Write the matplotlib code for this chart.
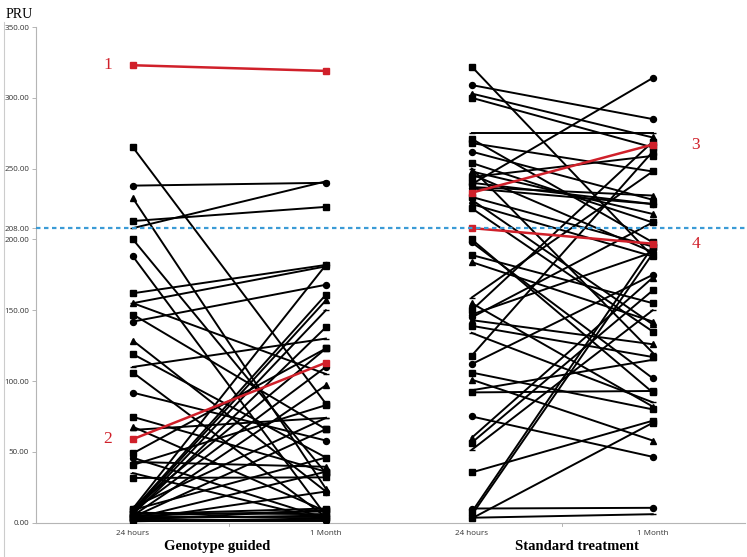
import matplotlib.pyplot as plt
from matplotlib.lines import Line2D

# Genotype guided: PRU at 24 hours and at 1 month (one pair per patient)
guided_24h = [265, 238, 229, 213, 208, 200, 188, 162, 155, 155, 147, 142,
              128.5, 119, 110, 106, 91.8, 74.7, 67.7, 65.5, 49, 45.8, 42.9,
              40.8, 35, 31.6, 10, 9, 8, 7, 6, 8, 5, 4, 9, 3, 2, 6, 3, 1, 5,
              2, 7, 4, 11, 10, 1, 2]
guided_1m = [84, 240, 24, 223, 241, 35, 5, 182, 181, 105, 66, 168,
             22, 46, 130, 4, 58, 36, 8, 74, 123, 3, 39.5,
             83, 2, 32, 182, 161, 157, 150, 138, 110, 97, 66, 46, 36, 22, 10, 5, 3, 8,
             2, 6, 4, 74, 123, 1, 9]

# Standard treatment
standard_24h = [322, 309, 303, 300, 275, 271, 262, 254, 248, 246, 240, 239,
                237, 230, 225, 222, 198, 189, 184, 159, 150, 147, 143, 139,
                134, 118, 112, 106, 101, 93.5, 92, 75, 60, 56.5, 51.5, 35.5,
                10, 7.5, 5.5, 3.5, 3, 145, 155, 200, 250, 268, 236, 244, 228]
standard_1m = [188, 285, 272, 265, 275, 198, 228, 212, 218, 191, 225, 314,
               231, 195, 188, 135, 102, 155, 142, 248, 269, 191, 126, 117,
               85, 262, 175, 80, 58, 115, 93, 46.5, 173, 164, 150, 72,
               10.5, 195, 190, 6, 70.5, 212, 82, 92, 120, 248, 225, 259, 140]

# Highlighted patients (red)
highlight_labels = ["1", "2", "3", "4"]
highlight_24h = [323, 59, 233, 208]
highlight_1m = [319, 113, 267, 197]
highlight_group = [0, 0, 1, 1]

y_ticks = [0, 50, 100, 150, 200, 250, 300, 350]
cutoff = 208
time_labels = ["24 hours", "1 Month"]
group_labels = ["Genotype guided", "Standard treatment"]

# x positions of the two time points for each group
group_x = [(0.0, 1.0), (1.756, 2.694)]
marker_cycle = ["s", "o", "^", "s", "_", "s", "o", "s", "^", "_"]

serif = "Liberation Serif"
sans = "Open Sans"

fig = plt.figure(figsize=(7.47, 5.57), dpi=100)
ax = fig.add_axes([0.0482, 0.0616, 0.9488, 0.8899])


def dibujar_grupo(ax, xs, before, after):
    for i, (a, b) in enumerate(zip(before, after)):
        ax.plot(xs, [a, b], color="black", lw=1.4,
                marker=marker_cycle[i % len(marker_cycle)],
                markersize=4.3, markeredgewidth=1.0, zorder=3)


dibujar_grupo(ax, group_x[0], guided_24h, guided_1m)
dibujar_grupo(ax, group_x[1], standard_24h, standard_1m)

red = "#d0202a"
for lab, a, b, g in zip(highlight_labels, highlight_24h, highlight_1m, highlight_group):
    xs = group_x[g]
    ax.plot(xs, [a, b], color=red, lw=1.8, marker="s", markersize=4.3, zorder=4)
    if g == 0:
        ax.text(xs[0] - 0.11, a, lab, color=red, fontsize=12.5, family=serif,
                ha="right", va="center")
    else:
        ax.text(xs[1] + 0.2, b, lab, color=red, fontsize=12.5, family=serif,
                ha="left", va="center")

# cut-off line
ax.axhline(cutoff, color="#3b9bd6", lw=1.6, ls=(0, (2, 1.6)), zorder=5)

ax.set_xlim(-0.5026, 3.171)
ax.set_ylim(0, 350)

yt = y_ticks[:4] + [cutoff] + y_ticks[4:]
ax.set_yticks(yt)
ax.set_yticklabels([f"{v:.2f}" for v in yt], fontsize=5.8, family=sans, color="#333333")
ax.tick_params(axis="y", length=3, width=0.6, color="#aaaaaa", pad=2)

tick_pos = [x for pair in group_x for x in pair]
ax.set_xticks(tick_pos)
ax.set_xticklabels(time_labels * 2, fontsize=5.8, family=sans, color="#333333")
ax.tick_params(axis="x", length=0, pad=5)
for pair in group_x:
    ax.plot([sum(pair) / 2] * 2, [0, -2], color="#aaaaaa", lw=0.6, clip_on=False)

for side in ["top", "right"]:
    ax.spines[side].set_visible(False)
for side in ["left", "bottom"]:
    ax.spines[side].set_color("#b5b5b5")
    ax.spines[side].set_linewidth(0.8)

# group names
ax.text(0.435, -0.048, group_labels[0], transform=ax.get_xaxis_transform(),
        ha="center", va="center", fontsize=10.5, fontweight="bold", family=serif)
ax.text(2.30, -0.048, group_labels[1], transform=ax.get_xaxis_transform(),
        ha="center", va="center", fontsize=10.5, fontweight="bold", family=serif)

fig.text(0.007, 0.985, "PRU", fontsize=10, family=serif, ha="left", va="top")
fig.add_artist(Line2D([0.0055, 0.0055], [0.0, 0.96], color="#cccccc", lw=0.8))

fig.savefig("out.png", dpi=100)
